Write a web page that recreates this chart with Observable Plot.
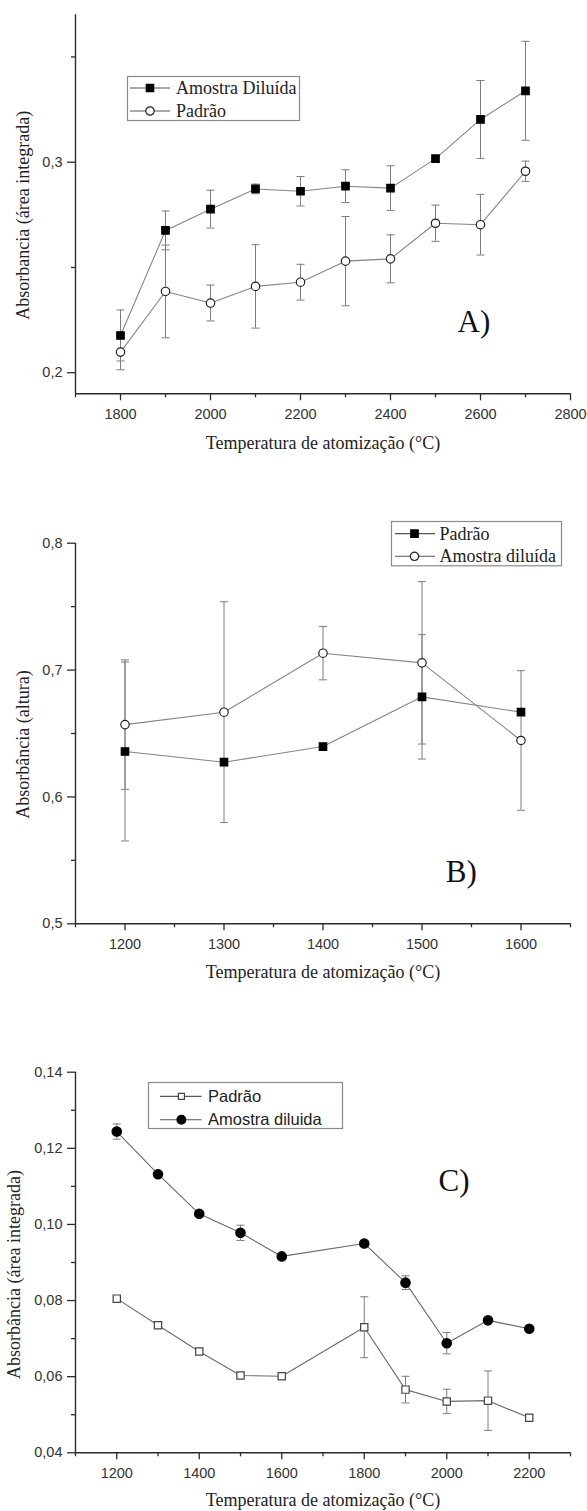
<!DOCTYPE html>
<html><head><meta charset="utf-8">
<script src="https://cdn.jsdelivr.net/npm/d3@7"></script>
<script src="https://cdn.jsdelivr.net/npm/@observablehq/plot@0.6"></script>
<style>
body{margin:0;background:#fff}
#wrap{position:relative;width:587px;height:1511px;overflow:hidden}
.panel{position:absolute;left:0}
.legend{position:absolute}
</style>
</head><body><div id="wrap"></div>
<script>
// ---------- Data: panel A ----------
const A_temps = [1800, 1900, 2000, 2100, 2200, 2300, 2400, 2500, 2600, 2700];
const A_amostra = [0.2177, 0.2676, 0.2777, 0.2873, 0.2862, 0.2886, 0.2877, 0.3017, 0.3203, 0.3339];
const A_amostraErr = [0.0121, 0.0092, 0.0090, 0.0023, 0.0070, 0.0078, 0.0106, 0, 0.0185, 0.0235];
const A_padrao = [0.2098, 0.2386, 0.2331, 0.2410, 0.2430, 0.2530, 0.2541, 0.2710, 0.2703, 0.2957];
const A_padraoErr = [0.0084, 0.0220, 0.0085, 0.0198, 0.0085, 0.0212, 0.0114, 0.0086, 0.0144, 0.0048];
const A_xTicks = [1800, 2000, 2200, 2400, 2600, 2800];
const A_xMinor = [1700, 1900, 2100, 2300, 2500, 2700];
const A_yTicks = [0.2, 0.3];
const A_yMinor = [0.25, 0.35];

// ---------- Data: panel B ----------
const B_temps = [1200, 1300, 1400, 1500, 1600];
const B_padrao = [0.6358, 0.6274, 0.6397, 0.6789, 0.6668];
const B_padraoErr = [0.0705, 0, 0, 0.0490, 0];
const B_amostra = [0.6570, 0.6668, 0.7133, 0.7057, 0.6445];
const B_amostraErr = [0.0510, 0.0870, 0.0210, 0.0640, 0.0550];
const B_xTicks = [1200, 1300, 1400, 1500, 1600];
const B_xMinor = [1150, 1250, 1350, 1450, 1550, 1650];
const B_yTicks = [0.5, 0.6, 0.7, 0.8];
const B_yMinor = [0.55, 0.65, 0.75];

// ---------- Data: panel C ----------
const C_temps = [1200, 1300, 1400, 1500, 1600, 1800, 1900, 2000, 2100, 2200];
const C_padrao = [0.0805, 0.0735, 0.0666, 0.0603, 0.0601, 0.0730, 0.0566, 0.0535, 0.0537, 0.0492];
const C_padraoErr = [0.0005, 0.0005, 0.0005, 0.0005, 0.0005, 0.0080, 0.0035, 0.0032, 0.0078, 0.0005];
const C_amostra = [0.1244, 0.1132, 0.1028, 0.0978, 0.0916, 0.0950, 0.0847, 0.0688, 0.0748, 0.0726];
const C_amostraErr = [0.0020, 0, 0, 0.0020, 0, 0, 0.0018, 0.0028, 0, 0];
const C_xTicks = [1200, 1400, 1600, 1800, 2000, 2200];
const C_xMinor = [1100, 1300, 1500, 1700, 1900, 2100, 2300];
const C_yTicks = [0.04, 0.06, 0.08, 0.10, 0.12, 0.14];
const C_yMinor = [0.05, 0.07, 0.09, 0.11, 0.13];

// ---------- Text ----------
const xTitle = "Temperatura de atomização (°C)";
const A_yTitle = "Absorbancia (área integrada)";
const B_yTitle = "Absorbância (altura)";
const C_yTitle = "Absorbância (área integrada)";
const A_names = ["Amostra Diluída", "Padrão"];
const B_names = ["Padrão", "Amostra diluída"];
const C_names = ["Padrão", "Amostra diluida"];

// ---------- Style ----------
const SERIF = "'Liberation Serif', 'Times New Roman', serif";
const SANS = "'Liberation Sans', Arial, sans-serif";
const AXIS = "#2b2b2b";
const TEXT = "#222";
const GRAY = "#7d7d7d";

const capSymbol = {
  draw(ctx, size) { const w = Math.sqrt(size / Math.PI); ctx.moveTo(-w, 0); ctx.lineTo(w, 0); }
};

function rows(xs, ys, es) {
  return xs.map((x, i) => ({x, y: ys[i], e: es[i], lo: ys[i] - es[i], hi: ys[i] + es[i]}));
}

function panel(cfg) {
  const marks = [];
  marks.push(Plot.ruleY([cfg.yDomain[0]], {stroke: AXIS, strokeWidth: 1.4}));
  marks.push(Plot.ruleX([cfg.xDomain[0]], {stroke: AXIS, strokeWidth: 1.4}));
  marks.push(Plot.axisX({ticks: cfg.xMinor, tickSize: 4, tickFormat: () => "", label: null, stroke: AXIS, strokeWidth: 1.3}));
  marks.push(Plot.axisX({ticks: cfg.xTicks, tickSize: 7, tickPadding: 8, tickFormat: d => String(d), label: null,
    stroke: AXIS, strokeWidth: 1.3, fill: "#333", fontSize: 14.5, fontFamily: SANS}));
  marks.push(Plot.axisY({ticks: cfg.yMinor, tickSize: 4, tickFormat: () => "", label: null, stroke: AXIS, strokeWidth: 1.3}));
  marks.push(Plot.axisY({ticks: cfg.yTicks, tickSize: 8, tickPadding: 5, tickFormat: cfg.yFmt, label: null,
    stroke: AXIS, strokeWidth: 1.3, fill: "#333", fontSize: 14.5, fontFamily: SANS}));
  for (const s of cfg.series) {
    const d = s.data;
    const withErr = d.filter(r => r.e > 0);
    marks.push(Plot.line(d, {x: "x", y: "y", stroke: cfg.lineColor, strokeWidth: 1.1}));
    marks.push(Plot.ruleX(withErr, {x: "x", y1: "lo", y2: "hi", stroke: GRAY, strokeWidth: 1}));
    marks.push(Plot.dot(withErr, {x: "x", y: "lo", symbol: capSymbol, r: 4, stroke: GRAY, strokeWidth: 1, fill: "none"}));
    marks.push(Plot.dot(withErr, {x: "x", y: "hi", symbol: capSymbol, r: 4, stroke: GRAY, strokeWidth: 1, fill: "none"}));
  }
  for (const s of cfg.series) {
    marks.push(Plot.dot(s.data, {x: "x", y: "y", symbol: s.symbol, r: s.r, fill: s.fill, stroke: s.stroke, strokeWidth: 1.2}));
  }
  marks.push(Plot.text([cfg.letter.text], {x: () => cfg.letter.x, y: () => cfg.letter.y, text: d => d,
    textAnchor: "start", lineAnchor: "bottom", fontSize: 31, fontFamily: SERIF, fill: "#111"}));
  marks.push(Plot.text([xTitle], {frameAnchor: "bottom", text: d => d, dy: cfg.xTitleDy, lineAnchor: "middle",
    textAnchor: "middle", fontSize: 18, fontFamily: SERIF, fill: TEXT}));
  marks.push(Plot.text([cfg.yTitle], {frameAnchor: "left", text: d => d, rotate: -90, dx: cfg.yTitleDx, dy: cfg.yTitleDy,
    textAnchor: "middle", lineAnchor: "middle", fontSize: 18, fontFamily: SERIF, fill: TEXT}));

  const svg = Plot.plot({
    width: 587,
    height: cfg.height,
    marginLeft: 75, marginRight: 17,
    marginTop: cfg.marginTop, marginBottom: cfg.marginBottom,
    x: {domain: cfg.xDomain},
    y: {domain: cfg.yDomain},
    style: {fontFamily: SANS, background: "transparent", overflow: "visible"},
    marks
  });
  const div = document.createElement("div");
  div.className = "panel";
  div.style.top = cfg.top + "px";
  div.appendChild(svg);
  document.getElementById("wrap").appendChild(div);
}

function legend(cfg) {
  const svg = d3.create("svg").attr("width", cfg.w).attr("height", cfg.h)
    .style("position", "absolute").style("left", cfg.left + "px").style("top", cfg.top + "px").style("overflow", "visible");
  svg.append("rect").attr("x", 0.5).attr("y", 0.5).attr("width", cfg.w - 1).attr("height", cfg.h - 1)
    .attr("fill", "#fff").attr("stroke", "#8a8a8a").attr("stroke-width", 1.2);
  cfg.items.forEach((it, i) => {
    const y = cfg.rowY[i];
    svg.append("line").attr("x1", cfg.lx1).attr("x2", cfg.lx2).attr("y1", y).attr("y2", y)
      .attr("stroke", cfg.lineColor).attr("stroke-width", 1.1);
    const sym = it.symbol === "square" ? d3.symbolSquare : d3.symbolCircle;
    svg.append("path").attr("d", d3.symbol(sym, it.r * it.r * Math.PI)())
      .attr("transform", `translate(${cfg.mx},${y})`)
      .attr("fill", it.fill).attr("stroke", it.stroke).attr("stroke-width", 1.2);
    svg.append("text").attr("x", cfg.tx).attr("y", y).attr("dy", "0.34em").text(it.label)
      .attr("font-family", cfg.font).attr("font-size", cfg.fontSize).attr("fill", TEXT);
  });
  const div = document.createElement("div");
  div.className = "legend";
  div.appendChild(svg.node());
  document.getElementById("wrap").appendChild(div);
}

const fmt = n => d => d.toFixed(n).replace(".", ",");

// Panel A
panel({
  top: 0, height: 480, marginTop: 14.3, marginBottom: 86.7,
  xDomain: [1700, 2800], yDomain: [0.19, 0.37],
  xTicks: A_xTicks, xMinor: A_xMinor, yTicks: A_yTicks, yMinor: A_yMinor, yFmt: fmt(1),
  lineColor: "#858585",
  series: [
    {data: rows(A_temps, A_amostra, A_amostraErr), symbol: "square", r: 4.2, fill: "#000", stroke: "#000"},
    {data: rows(A_temps, A_padrao, A_padraoErr), symbol: "circle", r: 4.2, fill: "#fff", stroke: "#222"}
  ],
  letter: {text: "A)", x: 2549, y: 0.2193},
  yTitle: A_yTitle, yTitleDx: -52.5, yTitleDy: 11, xTitleDy: 49.7
});
legend({left: 127, top: 76, w: 173, h: 45, rowY: [12, 35], lx1: 3, lx2: 43, mx: 23, tx: 49,
  lineColor: "#555", font: SERIF, fontSize: 18,
  items: [
    {label: A_names[0], symbol: "square", r: 4.2, fill: "#000", stroke: "#000"},
    {label: A_names[1], symbol: "circle", r: 4.2, fill: "#fff", stroke: "#222"}
  ]});

// Panel B
panel({
  top: 480, height: 520, marginTop: 62.7, marginBottom: 76.7,
  xDomain: [1150, 1650], yDomain: [0.5, 0.8],
  xTicks: B_xTicks, xMinor: B_xMinor, yTicks: B_yTicks, yMinor: B_yMinor, yFmt: fmt(1),
  lineColor: "#858585",
  series: [
    {data: rows(B_temps, B_padrao, B_padraoErr), symbol: "square", r: 4.2, fill: "#000", stroke: "#000"},
    {data: rows(B_temps, B_amostra, B_amostraErr), symbol: "circle", r: 4.2, fill: "#fff", stroke: "#222"}
  ],
  letter: {text: "B)", x: 1524, y: 0.5328},
  yTitle: B_yTitle, yTitleDx: -52.5, yTitleDy: 11, xTitleDy: 48.4
});
legend({left: 390.5, top: 520.7, w: 171, h: 45.3, rowY: [12.6, 35.3], lx1: 4, lx2: 44, mx: 23.5, tx: 48.5,
  lineColor: "#555", font: SERIF, fontSize: 18,
  items: [
    {label: B_names[0], symbol: "square", r: 4.2, fill: "#000", stroke: "#000"},
    {label: B_names[1], symbol: "circle", r: 4.2, fill: "#fff", stroke: "#222"}
  ]});

// Panel C
panel({
  top: 1000, height: 511, marginTop: 71.7, marginBottom: 58.7,
  xDomain: [1100, 2300], yDomain: [0.04, 0.14],
  xTicks: C_xTicks, xMinor: C_xMinor, yTicks: C_yTicks, yMinor: C_yMinor, yFmt: fmt(2),
  lineColor: "#6a6a6a",
  series: [
    {data: rows(C_temps, C_padrao, C_padraoErr), symbol: "square", r: 4.1, fill: "#fff", stroke: "#444"},
    {data: rows(C_temps, C_amostra, C_amostraErr), symbol: "circle", r: 4.7, fill: "#000", stroke: "#000"}
  ],
  letter: {text: "C)", x: 1980, y: 0.1087},
  yTitle: C_yTitle, yTitleDx: -61, yTitleDy: 12, xTitleDy: 47.7
});
legend({left: 148.3, top: 1082.3, w: 195, h: 47, rowY: [14.4, 37.7], lx1: 12, lx2: 53.5, mx: 33.4, tx: 60,
  lineColor: "#555", font: SANS, fontSize: 16.5,
  items: [
    {label: C_names[0], symbol: "square", r: 3.4, fill: "#fff", stroke: "#444"},
    {label: C_names[1], symbol: "circle", r: 4.4, fill: "#000", stroke: "#000"}
  ]});
</script>
</body></html>
